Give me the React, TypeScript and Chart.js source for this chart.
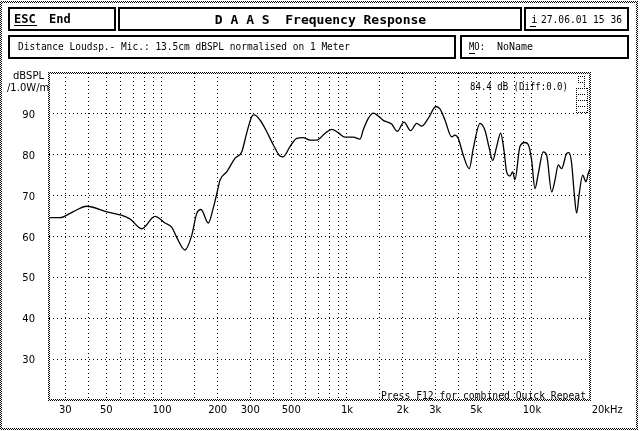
import React, { useEffect, useRef } from "react";
import { Chart, registerables } from "chart.js";

Chart.register(...registerables);

const frequencies = [24.5, 28.1, 33.2, 39.2, 50.3, 59.3, 67.1, 77.7, 91.7, 103.8, 112.8, 120.1, 133.1, 144.7, 154, 162.5, 178, 189.4, 201.6, 205.9, 223.7, 248, 269.7, 287, 305.4, 315.5, 338.6, 368, 400, 434, 452, 492, 535, 580, 631, 686, 760, 827, 897, 975, 1082, 1176, 1225, 1304, 1388, 1476, 1571, 1744, 1870, 2033, 2210, 2382, 2534, 2751, 3028, 3182, 3386, 3681, 3836, 3997, 4252, 4583, 4816, 5236, 5570, 5878, 6133, 6445, 6774, 7057, 7298, 7605, 7865, 8093, 8613, 9166, 9550, 9963, 10380, 10820, 11510, 12010, 12780, 13320, 13880, 14470, 15400, 15850, 16390, 16930, 17440, 18020, 18800, 19590, 20160, 20590];

const levels = [64.6, 64.6, 66.1, 67.4, 66.0, 65.3, 64.3, 61.9, 64.9, 63.3, 62.3, 59.8, 56.7, 60.2, 65.6, 66.6, 63.3, 67.0, 72.1, 73.8, 75.8, 79.1, 80.7, 85.3, 89.3, 89.75, 88.5, 85.7, 82.4, 79.7, 79.5, 82.0, 84.0, 84.2, 83.6, 83.6, 85.2, 86.2, 85.4, 84.3, 84.3, 83.8, 86.1, 88.9, 90.2, 89.5, 88.4, 87.5, 85.7, 88.0, 85.9, 87.7, 87.0, 88.9, 91.8, 91.2, 88.5, 84.4, 84.8, 84.0, 79.9, 76.6, 81.5, 87.7, 86.0, 81.6, 78.6, 82.0, 85.3, 81.1, 75.8, 74.8, 75.8, 73.9, 82.0, 83.0, 82.5, 78.7, 71.7, 75.4, 80.7, 79.9, 70.9, 73.8, 77.5, 76.6, 80.3, 80.5, 77.9, 70.5, 65.7, 70.5, 75.0, 73.4, 75.4, 76.5];

const xGridTicks = [30, 40, 50, 60, 70, 80, 90, 100, 150, 200, 300, 400, 500, 600, 700, 800, 900, 1000, 1500, 2000, 3000, 4000, 5000, 6000, 7000, 8000, 9000, 10000];
const xLabelValues = [30, 50, 100, 200, 300, 500, 1000, 2000, 3000, 5000, 10000];
const xLabelTexts = ["30", "50", "100", "200", "300", "500", "1k", "2k", "3k", "5k", "10k"];
const xLastLabelValue = 20000;
const xLastLabelText = "20kHz";
const yTicks = [30, 40, 50, 60, 70, 80, 90];
const yLabelTexts = ["30", "40", "50", "60", "70", "80", "90"];

const titleText = "D A A S  Frequency Response";
const escText = "ESC";
const endText = "End";
const dateText = "27.06.01 15 36";
const infoText = "Distance Loudsp.- Mic.: 13.5cm dBSPL normalised on 1 Meter";
const moText = "MO:";
const nameText = "NoName";
const yUnit1 = "dBSPL";
const yUnit2 = "/1.0W/m";
const levelNote = "84.4 dB (Diff:0.0)";
const footNote = "Press F12 for combined Quick Repeat";

const MONO = '"DejaVu Sans Mono", monospace';
const SANS = '"DejaVu Sans", sans-serif';

function checker(ctx: CanvasRenderingContext2D) {
  const c = document.createElement("canvas");
  c.width = 2;
  c.height = 2;
  const g = c.getContext("2d")!;
  g.fillStyle = "#000";
  g.fillRect(0, 0, 1, 1);
  g.fillRect(1, 1, 1, 1);
  return ctx.createPattern(c, "repeat")!;
}

function txt(ctx: CanvasRenderingContext2D, s: string, x: number, y: number, font: string, align: CanvasTextAlign = "left", maxW?: number) {
  ctx.font = font;
  ctx.textAlign = align;
  ctx.textBaseline = "alphabetic";
  ctx.fillStyle = "#000";
  if (maxW) ctx.fillText(s, x, y, maxW);
  else ctx.fillText(s, x, y);
}

const framePlugin = {
  id: "daasFrame",
  beforeDraw(chart: any) {
    const ctx: CanvasRenderingContext2D = chart.ctx;
    ctx.save();
    ctx.fillStyle = "#fff";
    ctx.fillRect(0, 0, chart.width, chart.height);
    const pat = checker(ctx);
    ctx.fillStyle = pat;
    ctx.fillRect(0, 1, 638, 2);
    ctx.fillRect(0, 428, 638, 2);
    ctx.fillRect(0, 1, 2, 429);
    ctx.fillRect(636, 1, 2, 429);

    ctx.strokeStyle = "#000";
    ctx.lineWidth = 2;
    const boxes = [
      [8, 7, 116, 31],
      [118, 7, 522, 31],
      [524, 7, 629, 31],
      [8, 35, 456, 59],
      [460, 35, 629, 59],
    ];
    for (const [x1, y1, x2, y2] of boxes) {
      ctx.strokeRect(x1 + 1, y1 + 1, x2 - x1 - 2, y2 - y1 - 2);
    }
    txt(ctx, escText, 14, 23, `bold 12px ${MONO}`, "left", 23);
    ctx.fillRect(14, 25, 23, 1);
    txt(ctx, endText, 49, 23, `bold 12px ${MONO}`, "left", 24);
    txt(ctx, titleText, 320.5, 24, `bold 13px ${MONO}`, "center");
    txt(ctx, "i", 531, 23, `11px ${MONO}`);
    ctx.fillRect(530, 26, 6, 1);
    txt(ctx, dateText, 541, 23, `11px ${MONO}`, "left", 81);
    txt(ctx, infoText, 18, 50, `11px ${MONO}`, "left", 332);
    txt(ctx, moText, 469, 50, `11px ${MONO}`, "left", 16);
    ctx.fillRect(469, 53, 6, 1);
    txt(ctx, nameText, 497, 50, `11px ${MONO}`, "left", 36);
    ctx.restore();
  },
  afterDraw(chart: any) {
    const ctx: CanvasRenderingContext2D = chart.ctx;
    const a = chart.chartArea;
    const xs = chart.scales.x;
    const ys = chart.scales.y;
    ctx.save();
    const pat = checker(ctx);
    ctx.fillStyle = pat;
    const l = Math.round(a.left), r = Math.round(a.right), t = Math.round(a.top), b = Math.round(a.bottom);
    ctx.fillRect(l - 1, t - 1, r - l + 2, 2);
    ctx.fillRect(l - 1, b - 1, r - l + 2, 2);
    ctx.fillRect(l - 1, t - 1, 2, b - t + 2);
    ctx.fillRect(r - 1, t - 1, 2, b - t + 2);

    yTicks.forEach((v, i) => {
      const y = ys.getPixelForValue(v);
      txt(ctx, yLabelTexts[i], 35, y + 4, `10px ${SANS}`, "right");
    });
    txt(ctx, yUnit1, 13, 79, `10px ${SANS}`, "left", 31);
    txt(ctx, yUnit2, 7, 91, `10px ${SANS}`, "left", 43);

    xLabelValues.forEach((v, i) => {
      const x = xs.getPixelForValue(v);
      txt(ctx, xLabelTexts[i], x, 413, `10px ${SANS}`, "center");
    });
    txt(ctx, xLastLabelText, xs.getPixelForValue(xLastLabelValue) + 4, 413, `10px ${SANS}`, "left", 31);

    txt(ctx, levelNote, 470, 90, `10px ${MONO}`, "left", 98);
    txt(ctx, footNote, 381, 399, `10px ${MONO}`, "left", 205);

    ctx.fillStyle = "#000";
    const dot = (x: number, y: number) => ctx.fillRect(x, y, 1, 1);
    for (let x = 576; x <= 587; x += 2) { dot(x, 88); dot(x, 100); dot(x, 112); }
    for (let y = 88; y <= 112; y += 2) { dot(576, y); dot(587, y); }
    for (let x = 578; x <= 585; x += 2) { dot(x, 94); dot(x, 106); }
    for (let y = 76; y <= 86; y += 2) { dot(584, y); }
    for (let x = 578; x <= 584; x += 2) { dot(x, 76); dot(x, 82); }
    dot(578, 78); dot(578, 80);
    ctx.restore();
  },
};

export default function App() {
  const ref = useRef<HTMLCanvasElement | null>(null);
  useEffect(() => {
    document.body.style.margin = "0";
    const canvas = ref.current!;
    const chart = new Chart(canvas, {
      type: "line",
      data: {
        datasets: [
          {
            data: frequencies.map((f, i) => ({ x: f, y: levels[i] })),
            borderColor: "#000",
            borderWidth: 1.3,
            pointRadius: 0,
            cubicInterpolationMode: "monotone",
            fill: false,
          },
        ],
      },
      options: {
        responsive: false,
        animation: false,
        devicePixelRatio: 1,
        layout: { padding: { left: 49, right: 50, top: 73, bottom: 31 } },
        plugins: { legend: { display: false }, tooltip: { enabled: false } },
        scales: {
          x: {
            type: "logarithmic",
            min: 24.5,
            max: 20600,
            afterBuildTicks: (s: any) => {
              s.ticks = xGridTicks.map((v) => ({ value: v }));
            },
            ticks: { display: false },
            grid: { color: "#000", lineWidth: 1, drawTicks: false },
            border: { display: false, dash: [1, 3] },
          },
          y: {
            type: "linear",
            min: 20,
            max: 100,
            afterBuildTicks: (s: any) => {
              s.ticks = yTicks.map((v) => ({ value: v }));
            },
            ticks: { display: false },
            grid: { color: "#000", lineWidth: 1, drawTicks: false },
            border: { display: false, dash: [1, 3] },
          },
        },
      } as any,
      plugins: [framePlugin],
    });
    return () => chart.destroy();
  }, []);
  return <canvas ref={ref} width={640} height={431} style={{ display: "block" }} />;
}
